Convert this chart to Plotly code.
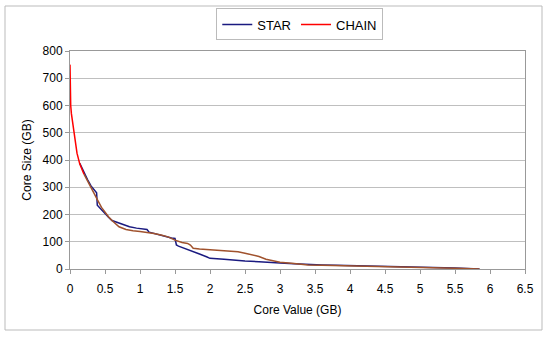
import plotly.graph_objects as go

# CHAIN series (Core Value GB, Core Size GB)
chain_x = [0, 0.003, 0.01, 0.02, 0.03, 0.05, 0.07, 0.1, 0.14, 0.2, 0.25, 0.3, 0.35,
           0.4, 0.45, 0.5, 0.55, 0.6, 0.65, 0.7, 0.8, 0.9, 1.0, 1.1, 1.2, 1.3, 1.4, 1.5,
           1.6, 1.68, 1.72, 1.76, 1.85, 2.0, 2.2, 2.4, 2.5, 2.6, 2.7, 2.8, 2.9, 3.0, 3.2,
           3.4, 3.6, 3.8, 4.0, 4.5, 5.0, 5.5, 5.85]
chain_y = [750, 640, 600, 570, 550, 505, 470, 425, 385, 348, 322, 300, 275,
           250, 226, 208, 192, 178, 165, 155, 145, 140, 138, 135, 130, 125, 118, 106,
           97, 94, 88, 76, 73, 71, 67, 63, 58, 52, 46, 36, 30, 25, 20,
           15, 14, 13, 12, 9, 6, 3, 0]

# STAR series
star_x = [0.14, 0.2, 0.25, 0.3, 0.35, 0.38, 0.39, 0.41, 0.45, 0.5, 0.55, 0.6,
          0.63, 0.68, 0.72, 0.8, 0.85, 0.95, 1.05, 1.1, 1.13, 1.2, 1.3, 1.35, 1.45,
          1.5, 1.52, 1.55, 1.65, 1.75, 1.85, 1.95, 2.0, 2.2, 2.4, 2.5, 2.7, 2.9, 3.0,
          3.2, 3.4, 3.6, 3.8, 4.0, 4.5, 5.0, 5.5, 5.85]
star_y = [388, 352, 328, 305, 288, 280, 234, 228, 220, 205, 190, 178,
          175, 170, 165, 160, 155, 150, 148, 145, 135, 130, 125, 120, 114,
          112, 88, 84, 75, 65, 55, 45, 39, 36, 31, 29, 27, 25, 22,
          19, 16, 15, 14, 13, 10, 7, 4, 0]

split = 10  # portion of the CHAIN line that renders pure red

x_ticks = [0, 0.5, 1, 1.5, 2, 2.5, 3, 3.5, 4, 4.5, 5, 5.5, 6, 6.5]
y_ticks = [0, 100, 200, 300, 400, 500, 600, 700, 800]

fig = go.Figure()
fig.add_trace(go.Scatter(x=star_x, y=star_y, mode="lines", name="STAR",
                         line=dict(color="#1a1a80", width=1.5)))
fig.add_trace(go.Scatter(x=chain_x[split - 1:], y=chain_y[split - 1:], mode="lines",
                         name="CHAIN", showlegend=False,
                         line=dict(color="#a0522d", width=1.5)))
fig.add_trace(go.Scatter(x=chain_x[:split], y=chain_y[:split], mode="lines", name="CHAIN",
                         line=dict(color="#ff0000", width=1.5)))

fig.update_layout(
    width=550, height=339,
    margin=dict(l=70, r=25, t=51, b=70, autoexpand=False),
    paper_bgcolor="white", plot_bgcolor="white",
    font=dict(family="Liberation Sans, Arial, sans-serif", size=12, color="black"),
    showlegend=True,
    legend=dict(orientation="h", x=0.505, xanchor="center", y=1.195, yanchor="top",
                bordercolor="#bbbbbb", borderwidth=1, font=dict(size=13),
                itemwidth=30, tracegroupgap=0),
    xaxis=dict(range=[0, 6.5], tickvals=x_ticks, ticktext=[f"{v:g}" for v in x_ticks],
               showgrid=False, zeroline=False, showline=True, linecolor="#999999",
               mirror=True, ticks="outside", ticklen=4, tickcolor="#999999",
               automargin=False, ticklabelstandoff=5,
               title=dict(text="Core Value (GB)", font=dict(size=12), standoff=10),
               tickfont=dict(size=12)),
    yaxis=dict(range=[0, 800], tickvals=y_ticks, showgrid=True, gridcolor="#bfbfbf",
               zeroline=False, showline=True, linecolor="#999999", mirror=True,
               ticks="outside", ticklen=4, tickcolor="#999999",
               automargin=False,
               title=dict(text="Core Size (GB)", font=dict(size=12), standoff=8),
               tickfont=dict(size=12)),
    shapes=[dict(type="rect", xref="paper", yref="paper",
                 x0=(5 - 70) / 455, x1=(542 - 70) / 455,
                 y0=(269 - 330) / 218, y1=(269 - 6) / 218,
                 line=dict(color="#bbbbbb", width=1), fillcolor="rgba(0,0,0,0)")],
)

fig.write_html("out.html", config={"displayModeBar": False},
               post_script="document.body.style.margin='0';document.body.style.padding='0';")
